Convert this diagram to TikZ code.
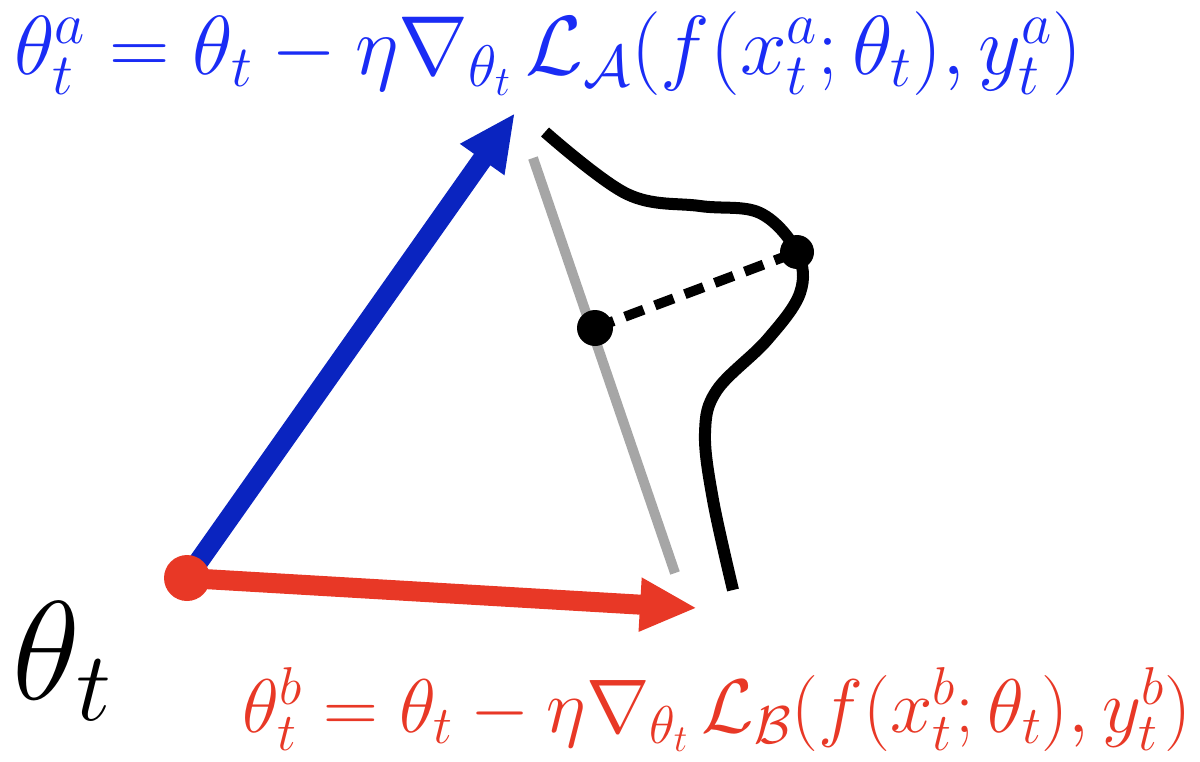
\documentclass[tikz,border=0pt]{standalone}
\usepackage{fix-cm}
\usepackage{amsmath}
\usepackage{tikz}
\usetikzlibrary{arrows.meta}
\definecolor{gradblue}{RGB}{10,36,192}
\definecolor{textblue}{RGB}{26,44,245}
\definecolor{gradred}{RGB}{232,56,38}
\definecolor{projgray}{RGB}{166,166,166}
\newcommand{\thmath}[1]{${#1}$}

\begin{document}
\begin{tikzpicture}[x=0.02cm,y=-0.02cm,
    grad/.style={line width=0.4cm,-{Triangle[length=1.14cm,width=1.0cm]}},
    dot/.style={circle,fill,inner sep=0pt,minimum size=#1},
    formula/.style={inner sep=0pt,anchor=base west}]
  \useasboundingbox (0,0) rectangle (1200,761);

  % 点を定義
  \coordinate (o) at (187,578);
  \coordinate (a) at (515,113);
  \coordinate (b) at (697,608);
  \coordinate (g1) at (533,158);
  \coordinate (g2) at (675,573);

  % 平均の線
  \draw[projgray,line width=0.2cm] (g1)--(g2);

  % 損失の曲線
  \draw[line width=0.24cm] plot[smooth,tension=0.6] coordinates
    {(545,132) (627,194) (700,206) (760,213) (797,252) (800,293)
     (767,340) (717,390) (705,433) (713,500) (733,590)};

  % 勾配の矢印
  \draw[grad,gradblue] (o)--(a);
  \draw[grad,gradred] (o)--(b);
  \node[dot=0.92cm,gradred] (start) at (o) {};

  % 射影の点と破線
  \node[dot=0.72cm] (m) at (595,328) {};
  \node[dot=0.68cm] (p) at (797,252) {};
  \draw[line width=0.2cm,dash pattern=on 0.4cm off 0.24cm] (m.center)--(p.center);

  % 式
  \node[formula,textblue,font=\fontsize{47.7}{57}\selectfont] (fa) at (14,74)
    {\thmath{\theta_t^a=\theta_t-\eta\nabla_{\theta_t}\,\mathcal{L}_{\mathcal{A}}(f(x_t^a;\theta_t),y_t^a)}};
  \node[formula,gradred,font=\fontsize{43.3}{52}\selectfont] (fb) at (242,732)
    {\thmath{\theta_t^b=\theta_t-\eta\nabla_{\theta_t}\,\mathcal{L}_{\mathcal{B}}(f(x_t^b;\theta_t),y_t^b)}};
  \node[formula,font=\fontsize{80}{96}\selectfont] (th) at (12,699)
    {\thmath{\theta_t}};
\end{tikzpicture}
\end{document}
